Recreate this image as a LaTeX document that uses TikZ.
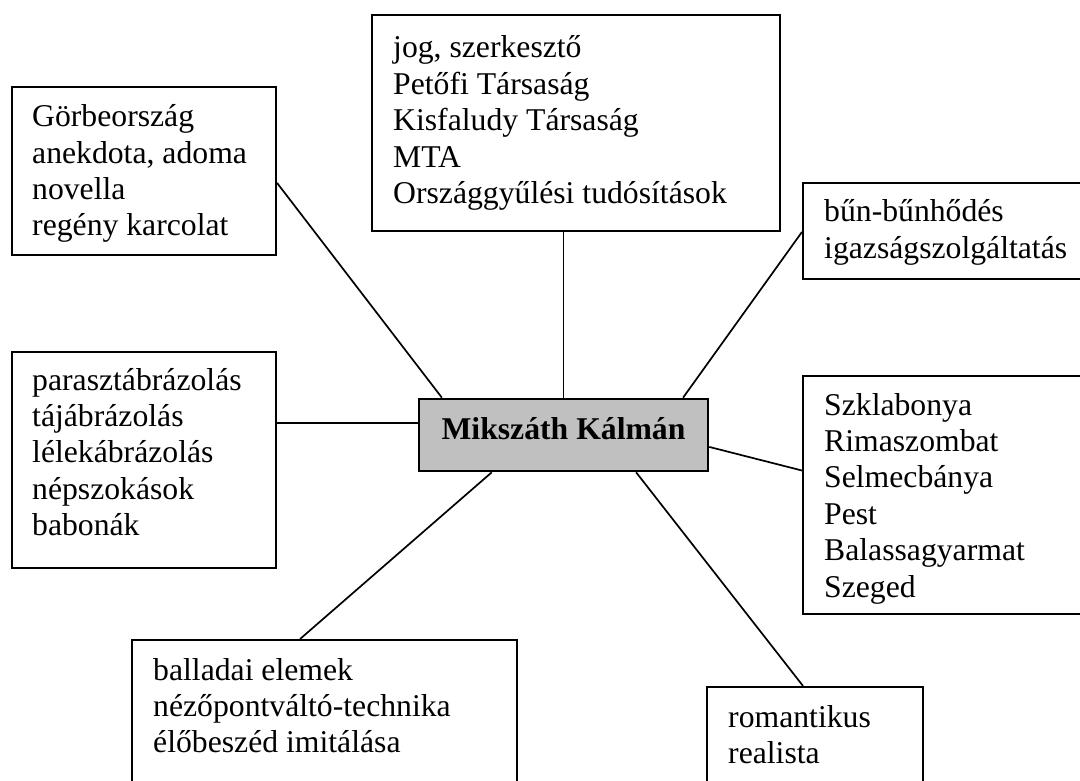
\documentclass[tikz,border=0pt]{standalone}
\usepackage{fontspec}
\setmainfont{Liberation Serif}
\usetikzlibrary{calc}
\definecolor{silver}{HTML}{C0C0C0}
\newcommand{\mylines}[1]{\vtop{\lineskiplimit=-\maxdimen\baselineskip=36.4pt\halign{##\hfil\cr#1\crcr}}}
\begin{document}
\begin{tikzpicture}[x=1pt,y=-1pt,
  box/.style={draw, line width=2.1pt, rectangle, inner sep=0pt, fill=white},
  hub/.style={draw, line width=2.6pt, rectangle, inner sep=0pt, fill=silver},
  txt/.style={anchor=base west, inner sep=0pt, font=\fontsize{31.7}{36.4}\selectfont},
  link/.style={line width=1.7pt}]
\useasboundingbox (0,0) rectangle (1080,781);
\clip (0,0) rectangle (1080,781);
% boxes
\node[box, minimum width=408pt, minimum height=216pt] (top) at (576,123) {};
\node[box, minimum width=264pt, minimum height=168pt] (lt) at (144,171) {};
\node[box, minimum width=282pt, minimum height=96pt] (rt) at (944,231) {};
\node[box, minimum width=264pt, minimum height=216pt] (lm) at (144,460) {};
\node[box, minimum width=282pt, minimum height=238pt] (rm) at (944,495) {};
\node[box, minimum width=385pt, minimum height=160pt] (bl) at (324.5,720) {};
\node[box, minimum width=216pt, minimum height=113pt] (br) at (815,743.5) {};
\node[hub, minimum width=289pt, minimum height=72pt] (c) at (563.5,435) {};
% connectors
\draw[link] (c.north) -- (c.north |- top.south);
\draw[link] ($(lt.north east)!0.57!(lt.south east)$) -- ($(c.north west)!0.083!(c.north east)$);
\draw[link] ($(rt.north west)!0.51!(rt.south west)$) -- ($(c.north west)!0.91!(c.north east)$);
\coordinate (cw) at ($(c.north west)!0.34!(c.south west)$);
\draw[link] (cw) -- (cw -| lm.east);
\draw[link] ($(c.north east)!0.66!(c.south east)$) -- ($(rm.north west)!0.398!(rm.south west)$);
\draw[link] ($(c.south west)!0.254!(c.south east)$) -- ($(bl.north west)!0.437!(bl.north east)$);
\draw[link] ($(c.south west)!0.749!(c.south east)$) -- ($(br.north west)!0.445!(br.north east)$);
% texts
\node[txt] (tTop) at (393,58) {\mylines{jog, szerkesztő\cr Petőfi Társaság\cr Kisfaludy Társaság\cr MTA\cr Országgyűlési tudósítások}};
\node[txt] (tLt) at (32,126.7) {\mylines{Görbeország\cr anekdota, adoma\cr novella\cr regény karcolat}};
\node[txt] (tRt) at (824,221.7) {\mylines{bűn-bűnhődés\cr igazságszolgáltatás}};
\node[txt] (tLm) at (32,390) {\mylines{parasztábrázolás\cr tájábrázolás\cr lélekábrázolás\cr népszokások\cr babonák}};
\node[txt] (tRm) at (824,415) {\mylines{Szklabonya\cr Rimaszombat\cr Selmecbánya\cr Pest\cr Balassagyarmat\cr Szeged}};
\node[txt] (tBl) at (153,680) {\mylines{balladai elemek\cr nézőpontváltó-technika\cr élőbeszéd imitálása}};
\node[txt] (tBr) at (728,727.3) {\mylines{romantikus\cr realista}};
\node[txt, anchor=base] (tC) at (563.5,439.3) {\bfseries Mikszáth Kálmán};
\end{tikzpicture}
\end{document}
